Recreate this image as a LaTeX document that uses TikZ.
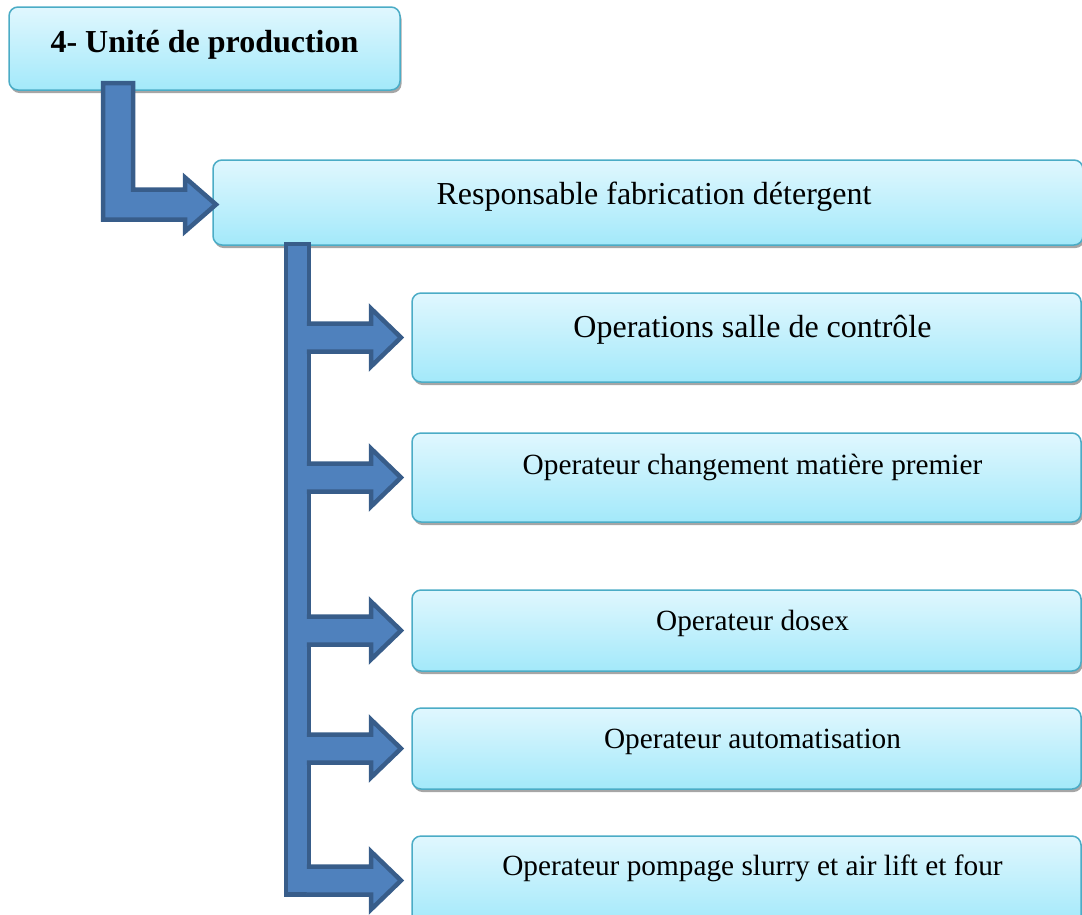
\documentclass[tikz,border=0pt]{standalone}
\usepackage{fontspec}
\setmainfont{Liberation Serif}
\usetikzlibrary{positioning, shadows, calc}

\definecolor{cardline}{HTML}{4BACC6}
\definecolor{cardtop}{HTML}{E0F7FE}
\definecolor{cardbottom}{HTML}{A3E9FA}
\definecolor{blockfill}{HTML}{4F81BD}
\definecolor{blockline}{HTML}{385D8A}

\tikzset{
    card/.style={draw=cardline, line width=1.5pt, rounded corners=9pt,
        top color=cardtop, bottom color=cardbottom,
        drop shadow={shadow xshift=1.5pt, shadow yshift=-3pt, fill=black!35, opacity=1},
        inner sep=0pt, outer sep=0pt, anchor=north west,
        text height=7pt, text depth=7pt},
    headtext/.style={font=\fontsize{32}{36}\selectfont},
    jobtext/.style={font=\fontsize{29.3}{33}\selectfont},
    block/.style={draw=blockline, fill=blockfill, line width=4.5pt, line join=miter},
}

\begin{document}
\begin{tikzpicture}[x=1pt, y=-1pt]
    \useasboundingbox (0,0) rectangle (1082,914);
    \clip (0,0) rectangle (1082,914);

    % boxes
    \node[card, headtext, minimum width=391pt, minimum height=83pt, text depth=0pt] (unite) at (9,7)
        {\bfseries 4- Unité de production};
    \node[card, headtext, minimum width=870pt, minimum height=85pt, text depth=3pt] (resp) at (213,160)
        {\hspace*{12pt}Responsable fabrication détergent};
    \node[card, headtext, minimum width=669pt, minimum height=89pt,
          below right=48pt and 199pt of resp.south west, anchor=north west] (op1)
        {\hspace*{12pt}Operations salle de contrôle};
    \node[card, jobtext, minimum width=669pt, minimum height=89pt, text depth=13pt,
          below=51pt of op1.south west, anchor=north west] (op2)
        {\hspace*{12pt}Operateur changement matière premier};
    \node[card, jobtext, minimum width=669pt, minimum height=81pt,
          below=68pt of op2.south west, anchor=north west] (op3)
        {\hspace*{12pt}Operateur dosex};
    \node[card, jobtext, minimum width=669pt, minimum height=81pt,
          below=37pt of op3.south west, anchor=north west] (op4)
        {\hspace*{12pt}Operateur automatisation};
    \node[card, jobtext, minimum width=669pt, minimum height=89pt, text depth=17pt,
          below=47pt of op4.south west, anchor=north west] (op5)
        {\hspace*{12pt}Operateur pompage slurry et air lift et four};

    % bent arrow unite -> resp
    \coordinate (ltip) at ($(resp.west)+(3,2)$);
    \draw[block] ($(unite.south west)+(94,-7)$) coordinate (ltop) -- ++(30,0)
        |- ($(ltip)+(-31,-15)$) -- ++(0,-12) -- (ltip) -- ($(ltip)+(-31,27)$)
        -- ++(0,-12) -| (ltop) -- cycle;

    % trunk and branches
    \coordinate (barT) at ($(resp.south west)+(73,-1)$);
    \coordinate (barB) at ($(op5.west)+(-103,14)$);
    \draw[block] (barT) rectangle (barB);
    \foreach \n in {op1,op2,op3,op4,op5} {
        \coordinate (tip) at ($(\n.west)+(-11,0)$);
        \coordinate (root) at (tip -| barB);
        \draw[block] ($(root)+(-2.25,-14)$) -- ($(tip)+(-30,-14)$) -- ($(tip)+(-30,-29)$)
            -- (tip) -- ($(tip)+(-30,29)$) -- ($(tip)+(-30,14)$) -- ($(root)+(-2.25,14)$);
    }
\end{tikzpicture}
\end{document}
